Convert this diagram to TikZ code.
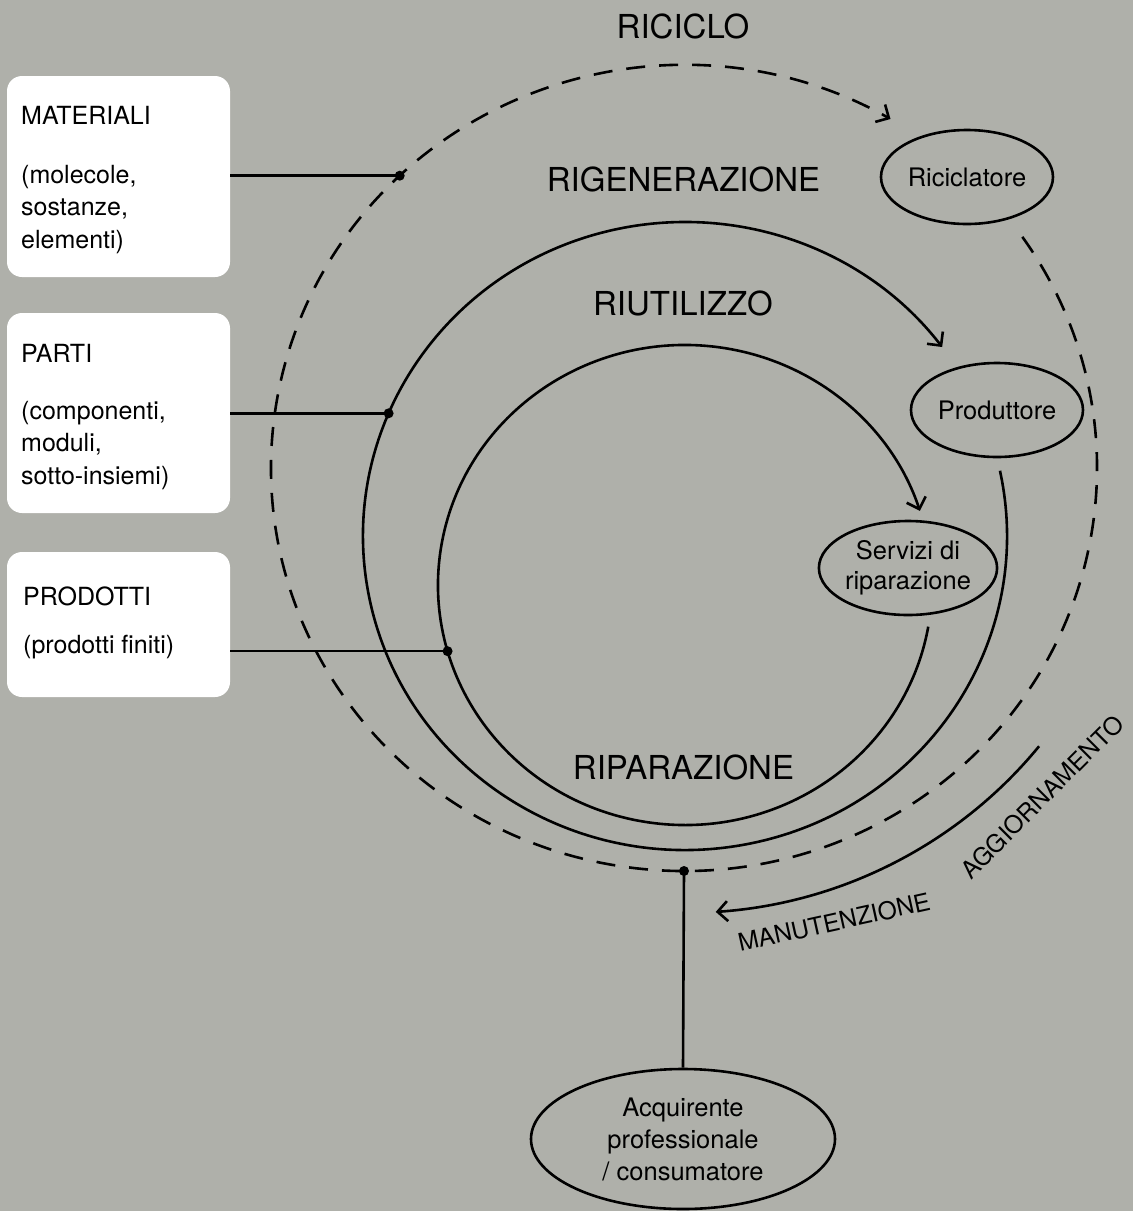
\documentclass[tikz,border=0pt]{standalone}
\usepackage{fontspec}
\setmainfont{TeX Gyre Heros}
\usetikzlibrary{arrows.meta,calc,shapes.geometric}
\definecolor{paper}{RGB}{175,176,170}
\begin{document}
\begin{tikzpicture}[x=1pt,y=-1pt,
  flow/.style={line width=2.6pt},
  loopdash/.style={line width=2.6pt, dash pattern=on 19pt off 14pt},
  tipend/.style={-{Straight Barb[length=10pt,width=20pt,line width=2.6pt]}},
  actor/.style={ellipse, draw, line width=2.6pt, minimum width=172pt, minimum height=94pt,
    inner sep=0pt, font=\fontsize{25.5}{30}\selectfont, align=center},
  cat/.style={rectangle, fill=white, rounded corners=15pt, minimum width=223pt, inner sep=0pt},
  big/.style={font=\fontsize{33}{38}\selectfont, inner sep=0pt},
  small/.style={font=\fontsize{25}{32.5}\selectfont, inner sep=0pt, align=left},
  turned/.style={font=\fontsize{24.5}{29}\selectfont, inner sep=0pt},
  dot/.style={circle, fill=black, minimum size=10pt, inner sep=0pt},
]
% canvas
\fill[paper] (0,0) rectangle (1133,1211);
\useasboundingbox (0,0) rectangle (1133,1211);

% centres of the three loops
\coordinate (cR) at (684,468);
\coordinate (cG) at (685,536);
\coordinate (cU) at (685,585);

% category boxes
\node[cat, minimum height=201pt] (boxM) at (118.5,176.5) {};
\node[cat, minimum height=200pt] (boxP) at (118.5,413) {};
\node[cat, minimum height=145pt] (boxD) at (118.5,624.5) {};

% multi-line texts are anchored on the baseline of their last line
\node[small, anchor=base west] (tM) at (21,124) {MATERIALI};
\node[small, anchor=base west] (bM) at (21,248) {(molecole,\\sostanze,\\elementi)};
\node[small, anchor=base west] (tP) at (21,362) {PARTI};
\node[small, anchor=base west] (bP) at (21,484) {(componenti,\\moduli,\\sotto-insiemi)};
\node[small, anchor=base west] (tD) at (23,605) {PRODOTTI};
\node[small, anchor=base west] (bD) at (23,653) {(prodotti finiti)};

% loop labels
\node[big] (lRic) at (683,26) {RICICLO};
\node[big] (lRig) at (683.5,179) {RIGENERAZIONE};
\node[big] (lRiu) at (683,303.5) {RIUTILIZZO};
\node[big] (lRip) at (683.5,767.5) {RIPARAZIONE};

% actors
\node[actor] (ric) at (967,177) {Riciclatore};
\node[actor] (pro) at (997,410) {Produttore};
\node[actor] (ser) at (908,568) {Servizi di\\riparazione};
\node[actor, minimum width=304pt, minimum height=140pt, font=\fontsize{25.5}{32}\selectfont]
  (acq) at (683,1139) {Acquirente\\professionale\\/ consumatore};

% loops
\draw[loopdash, tipend] ($(cR)+(-35:413 and 403)$)
  arc[start angle=-35, end angle=300, x radius=413, y radius=403];
\draw[flow, tipend] ($(cG)+(-12:322 and 314)$)
  arc[start angle=-12, end angle=323, x radius=322, y radius=314];
\draw[flow, tipend] ($(cU)+(10:247 and 240)$)
  arc[start angle=10, end angle=342, x radius=247, y radius=240];
\draw[flow, tipend] ($(cR)+(38.7:455 and 445)$)
  arc[start angle=38.7, end angle=86, x radius=455, y radius=445];

\node[turned, rotate=12.5] (lMan) at (834,922) {MANUTENZIONE};
\node[turned, rotate=45] (lAgg) at (1042,797) {AGGIORNAMENTO};

% junctions
\node[dot] (dM) at ($(cR)+(226.5:413 and 403)$) {};
\node[dot] (dP) at ($(cG)+(203:322 and 314)$) {};
\node[dot] (dD) at ($(cU)+(164:247 and 240)$) {};
\node[dot] (dA) at ($(cR)+(90:413 and 403)$) {};

\draw[flow] (boxM.east |- dM) -- (dM.center);
\draw[flow] (boxP.east |- dP) -- (dP.center);
\draw[flow] (boxD.east |- dD) -- (dD.center);
\draw[flow] (dA.center) -- (acq.north);
\end{tikzpicture}
\end{document}
